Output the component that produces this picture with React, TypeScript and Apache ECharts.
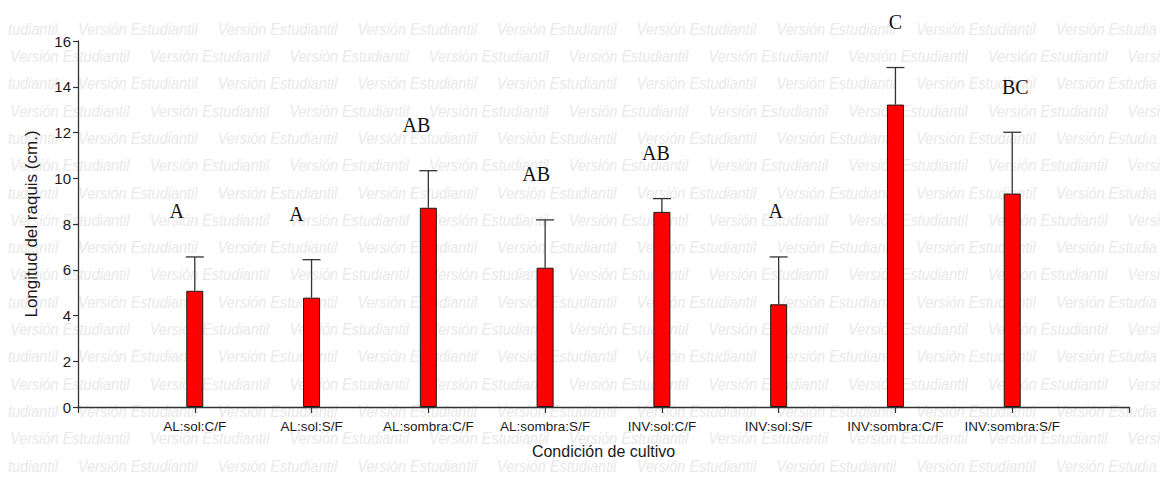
import React, { useEffect, useRef } from "react";
import * as echarts from "echarts";

// Growing conditions (site : light : treatment)
const categories = [
  "AL:sol:C/F",
  "AL:sol:S/F",
  "AL:sombra:C/F",
  "AL:sombra:S/F",
  "INV:sol:C/F",
  "INV:sol:S/F",
  "INV:sombra:C/F",
  "INV:sombra:S/F",
];

// Mean rachis length (cm) per condition
const means = [5.08, 4.78, 8.71, 6.09, 8.53, 4.49, 13.22, 9.33];

// Upper error (cm) added above each mean
const errors = [1.48, 1.66, 1.62, 2.09, 0.58, 2.07, 1.62, 2.68];

// Significance groups
const letters = ["A", "A", "AB", "AB", "AB", "A", "C", "BC"];

const WATERMARK = "Versión Estudiantil";
const WM_FONT = 'italic 14.5px "Liberation Sans"';
const PAGE_W = 1163;

function buildWatermark() {
  const ctx = document.createElement("canvas").getContext("2d")!;
  ctx.font = WM_FONT;
  const measure = (s: string) => ctx.measureText(s).width;
  const full = measure(WATERMARK);

  const items: any[] = [];
  const step = 139.7;
  const rowGap = 27.3;
  const push = (x: number, y: number, text: string, align: string) =>
    items.push({
      type: "text",
      x,
      y,
      z: -10,
      silent: true,
      scaleY: 1.1,
      style: {
        text,
        x: 0,
        y: 0,
        fill: "#e9e9e9",
        font: WM_FONT,
        align,
        verticalAlign: "middle",
      },
    });

  for (let r = 0; r < 17; r++) {
    const y = 29 + r * rowGap;
    const start = r % 2 === 0 ? 78 - step : 10;
    for (let x = start; x < PAGE_W; x += step) {
      if (x < 0) {
        // only the tail of the stamp shows at the left edge
        push(x + full, y, "tudiantil", "right");
      } else if (x + full > PAGE_W) {
        // only the head of the stamp shows at the right edge
        let s = WATERMARK;
        while (s.length > 0 && x + measure(s) > PAGE_W - 1) s = s.slice(0, -1);
        if (s.trim().length) push(x, y, s.trimEnd(), "left");
      } else {
        push(x, y, WATERMARK, "left");
      }
    }
  }
  return items;
}

export default function App() {
  const ref = useRef<HTMLDivElement>(null);

  useEffect(() => {
    if (!ref.current) return;
    const chart = echarts.init(ref.current, null, { renderer: "svg" });

    const axisColor = "#333333";
    const textColor = "#1a1a1a";

    chart.setOption({
      animation: false,
      backgroundColor: "#ffffff",
      graphic: buildWatermark(),
      grid: { left: 78, right: 34, top: 41, bottom: 73 },
      xAxis: {
        type: "value",
        min: 0,
        max: categories.length + 1,
        interval: 1,
        name: "Condición de cultivo",
        nameLocation: "middle",
        nameGap: 36,
        nameTextStyle: { fontFamily: "Liberation Sans", fontSize: 16, color: textColor },
        splitLine: { show: false },
        axisLine: { show: true, onZero: false, lineStyle: { color: axisColor, width: 1.3 } },
        axisTick: { show: true, length: 6, lineStyle: { color: axisColor, width: 1.2 } },
        axisLabel: {
          margin: 12,
          fontFamily: "Liberation Sans",
          fontSize: 13.5,
          color: textColor,
          showMinLabel: true,
          showMaxLabel: true,
          formatter: (v: number) => categories[v - 1] ?? "",
        },
      },
      yAxis: {
        type: "value",
        min: 0,
        max: 16,
        interval: 2,
        name: "Longitud del raquis (cm.)",
        nameLocation: "middle",
        nameGap: 38,
        nameTextStyle: { fontFamily: "Liberation Sans", fontSize: 17, color: textColor },
        splitLine: { show: false },
        axisLine: { show: true, lineStyle: { color: axisColor, width: 1.3 } },
        axisTick: { show: true, length: 5, lineStyle: { color: axisColor, width: 1.2 } },
        axisLabel: {
          margin: 7,
          fontFamily: "Liberation Sans",
          fontSize: 15,
          color: textColor,
        },
      },
      series: [
        {
          type: "bar",
          barWidth: 17,
          z: 2,
          data: means.map((m, i) => [i + 1, m]),
          itemStyle: { color: "#ff0000", borderColor: "#1a1a1a", borderWidth: 1 },
        },
        {
          type: "custom",
          z: 3,
          data: means.map((m, i) => [i + 1, m, m + errors[i]]),
          renderItem: (params: any, api: any) => {
            const x = api.value(0);
            const m = api.value(1);
            const up = api.value(2);
            const base = api.coord([x, m]);
            const top = api.coord([x, up]);
            const lab = api.coord([x, up + 2]);
            const i = params.dataIndex;
            const half = 9;
            const stroke = { stroke: "#333333", lineWidth: 1.3 };
            return {
              type: "group",
              children: [
                {
                  type: "line",
                  shape: { x1: base[0], y1: base[1], x2: top[0], y2: top[1] },
                  style: stroke,
                },
                {
                  type: "line",
                  shape: { x1: top[0] - half, y1: top[1], x2: top[0] + half, y2: top[1] },
                  style: stroke,
                },
                {
                  type: "text",
                  x: lab[0] - 18 + 3 * i,
                  y: lab[1],
                  style: {
                    text: letters[i],
                    font: '20px "Liberation Serif"',
                    fill: "#111111",
                    align: "center",
                    verticalAlign: "middle",
                  },
                },
              ],
            };
          },
        },
      ],
    });

    return () => chart.dispose();
  }, []);

  return (
    <div
      ref={ref}
      style={{ position: "fixed", left: 0, top: 0, width: 1163, height: 480, background: "#fff" }}
    />
  );
}
